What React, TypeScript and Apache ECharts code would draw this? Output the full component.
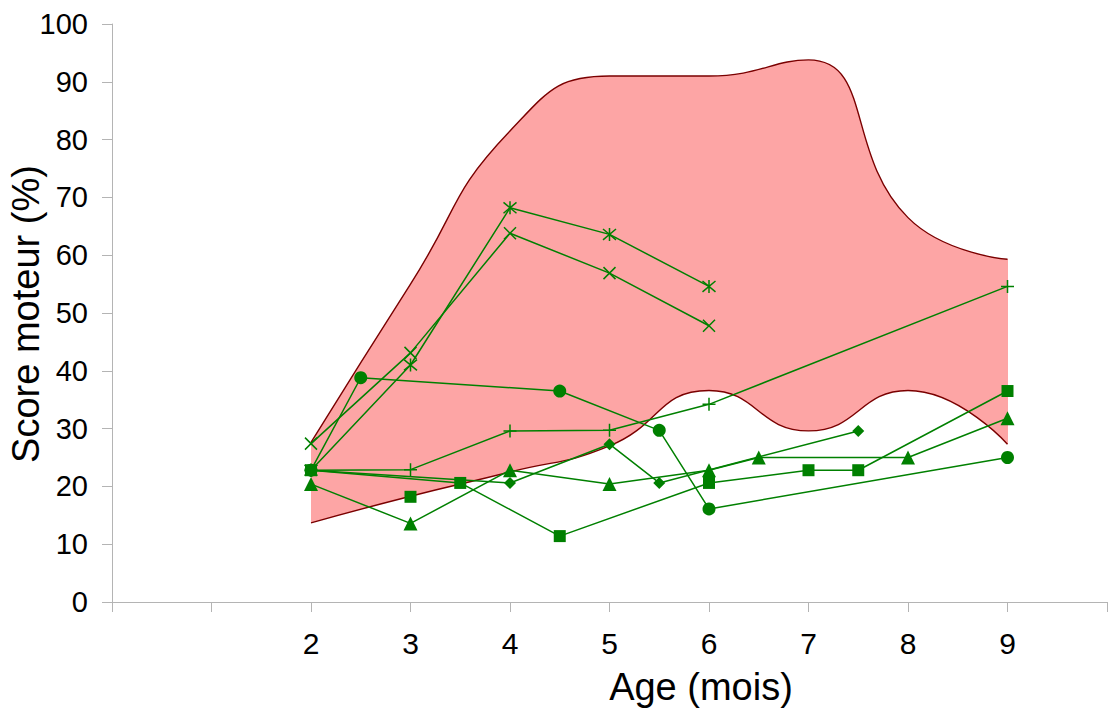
import React, { useEffect, useRef } from "react";
import * as echarts from "echarts";

// Band (normal range) boundaries
const bandX = [2, 3, 4, 5, 6, 7, 8, 9];
const bandUpper = [27.6, 55, 81.5, 91, 91, 93.8, 66.5, 59.3];
const bandLower = [13.7, 18.3, 22.5, 27, 36.6, 29.6, 36.6, 27.3];

// Individual patients
const circleX = [2, 2.5, 4.5, 5.5, 6, 9];
const circleY = [22.8, 38.8, 36.5, 29.7, 16.1, 25.0];

const squareX = [2, 3.5, 4.5, 6, 7, 7.5, 9];
const squareY = [22.8, 20.6, 11.4, 20.6, 22.8, 22.8, 36.5];

const squareAloneX = [3];
const squareAloneY = [18.2];

const triangleX = [2, 3, 4, 5, 6, 6.5, 8, 9];
const triangleY = [20.4, 13.6, 22.8, 20.4, 22.8, 25.0, 25.0, 31.8];

const diamondX = [2, 4, 5, 5.5, 7.5];
const diamondY = [22.8, 20.6, 27.3, 20.6, 29.6];

const plusX = [2, 3, 4, 5, 6, 9];
const plusY = [22.8, 22.9, 29.6, 29.7, 34.2, 54.6];

const crossX = [2, 3, 4, 5, 6];
const crossY = [27.4, 43.1, 63.8, 56.9, 47.8];

const starX = [2, 3, 4, 5, 6];
const starY = [22.8, 41.0, 68.2, 63.6, 54.6];

const xLabels = ["2", "3", "4", "5", "6", "7", "8", "9"];

const GREEN = "#008000";
const PINK = "#fda5a5";
const MASK = "#ffffff";
const FONT = "'Liberation Sans', Arial, Helvetica, sans-serif";

const pairs = (xs: number[], ys: number[]) => xs.map((x, i) => [x, ys[i]]);

const greenSeries = (
  name: string,
  xs: number[],
  ys: number[],
  symbol: string,
  size: number,
  stroked = false
) => ({
  name,
  type: "line",
  data: pairs(xs, ys),
  symbol,
  symbolSize: size,
  showSymbol: true,
  showAllSymbol: true,
  lineStyle: { color: GREEN, width: 1.5 },
  itemStyle: stroked
    ? { color: "rgba(0,0,0,0)", borderColor: GREEN, borderWidth: 1.5, opacity: 1 }
    : { color: GREEN, borderWidth: 0, opacity: 1 },
  z: 5,
});

export default function App() {
  const ref = useRef<HTMLDivElement>(null);
  useEffect(() => {
    if (!ref.current) return;
    const chart = echarts.init(ref.current, undefined, { renderer: "svg" });
    const axisColor = "#b4b4b4";
    chart.setOption({
      animation: false,
      textStyle: { fontFamily: FONT },
      grid: { left: 112, top: 24, width: 1000, height: 578 },
      xAxis: {
        type: "value",
        min: 0,
        max: 10,
        interval: 1,
        z: 10,
        axisLine: { show: true, onZero: false, lineStyle: { color: axisColor, width: 1 } },
        axisTick: { show: true, inside: false, length: 10, lineStyle: { color: axisColor } },
        splitLine: { show: false },
        axisLabel: {
          color: "#000",
          fontSize: 30,
          fontFamily: FONT,
          margin: 26,
          showMinLabel: true,
          showMaxLabel: true,
          formatter: (v: number) => (xLabels.includes(String(v)) ? String(v) : ""),
        },
      },
      yAxis: {
        type: "value",
        min: 0,
        max: 100,
        interval: 10,
        z: 10,
        axisLine: { show: true, lineStyle: { color: axisColor, width: 1 } },
        axisTick: { show: true, inside: false, length: 10, lineStyle: { color: axisColor } },
        splitLine: { show: false },
        axisLabel: { color: "#000", fontSize: 29, fontFamily: FONT, margin: 24 },
      },
      graphic: [
        {
          type: "text",
          x: 701,
          y: 687,
          style: {
            text: "Age (mois)",
            fontSize: 38,
            fontFamily: FONT,
            fill: "#000",
            textAlign: "center",
            textVerticalAlign: "middle",
          },
        },
        {
          type: "text",
          x: 26,
          y: 314,
          rotation: Math.PI / 2,
          style: {
            text: "Score moteur (%)",
            fontSize: 38,
            fontFamily: FONT,
            fill: "#000",
            textAlign: "center",
            textVerticalAlign: "middle",
          },
        },
      ],
      series: [
        {
          name: "high",
          type: "line",
          data: pairs(bandX, bandUpper),
          smooth: 0.5,
          symbol: "none",
          lineStyle: { color: "#7a0000", width: 1.4 },
          areaStyle: { color: PINK, opacity: 1, origin: "start" },
          z: 1,
        },
        {
          name: "low",
          type: "line",
          data: pairs(bandX, bandLower),
          smooth: 0.5,
          symbol: "none",
          lineStyle: { color: "#7a0000", width: 1.4 },
          areaStyle: { color: MASK, opacity: 1, origin: "start" },
          z: 2,
        },
        greenSeries("circle", circleX, circleY, "circle", 13),
        greenSeries("square", squareX, squareY, "rect", 12),
        greenSeries("triangle", triangleX, triangleY, "triangle", 14),
        greenSeries("diamond", diamondX, diamondY, "diamond", 12),
        greenSeries("plus", plusX, plusY, "path://M5,0L5,10M0,5L10,5", 13, true),
        greenSeries("cross", crossX, crossY, "path://M0,0L10,10M10,0L0,10", 12, true),
        greenSeries("star", starX, starY, "path://M0,0L10,10M10,0L0,10M5,-1L5,11", 13, true),
        {
          name: "squareAlone",
          type: "scatter",
          data: pairs(squareAloneX, squareAloneY),
          symbol: "rect",
          symbolSize: 12,
          itemStyle: { color: GREEN, opacity: 1 },
          z: 5,
        },
      ],
    });
    // crisp edges on the band fills so their shared vertical edges leave no seam
    const fills = new Set([PINK, MASK, "#fff", "rgb(253,165,165)", "rgb(255,255,255)"]);
    ref.current.querySelectorAll("path").forEach((p) => {
      const f = (p.getAttribute("fill") || "").replace(/\s/g, "").toLowerCase();
      const hasStroke = p.getAttribute("stroke") && p.getAttribute("stroke") !== "none";
      if (fills.has(f) && !hasStroke) p.setAttribute("shape-rendering", "crispEdges");
    });
    return () => chart.dispose();
  }, []);
  return (
    <div
      ref={ref}
      style={{ position: "absolute", left: 0, top: 0, width: 1110, height: 709, background: "#fff" }}
    />
  );
}
